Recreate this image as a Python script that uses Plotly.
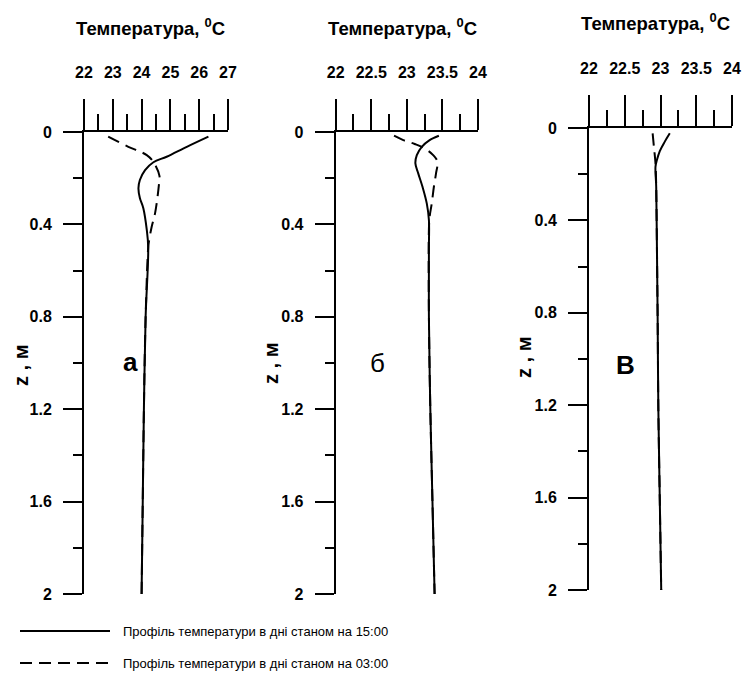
import plotly.graph_objects as go

# ---- Temperature profiles: depth z (m) vs temperature (°C) ----
# Panel "а"
z_a_day = [0.02, 0.064, 0.107, 0.131, 0.165, 0.208, 0.244, 0.286, 0.33, 0.424, 0.5, 0.8, 1.2, 1.6, 2.0]
t_a_day = [26.32, 25.57, 24.87, 24.41, 24.12, 23.94, 23.89, 23.94, 24.06, 24.18, 24.23, 24.14, 24.08, 24.04, 24.0]
z_a_night = [0.02, 0.064, 0.10, 0.13, 0.19, 0.23, 0.35, 0.41, 0.47, 0.5, 0.8, 1.2, 1.6, 2.0]
t_a_night = [22.84, 23.54, 24.18, 24.41, 24.62, 24.6, 24.47, 24.35, 24.26, 24.23, 24.14, 24.08, 24.04, 24.0]

# Panel "б"
z_b_day = [0.016, 0.035, 0.064, 0.10, 0.136, 0.179, 0.237, 0.309, 0.381, 0.5, 0.8, 1.2, 1.6, 2.0]
t_b_day = [23.45, 23.32, 23.21, 23.14, 23.12, 23.16, 23.22, 23.28, 23.31, 23.31, 23.31, 23.33, 23.36, 23.39]
z_b_night = [0.016, 0.035, 0.052, 0.071, 0.10, 0.128, 0.179, 0.237, 0.309, 0.367, 0.42, 0.8, 1.2, 1.6, 2.0]
t_b_night = [22.82, 22.95, 23.11, 23.25, 23.37, 23.43, 23.41, 23.38, 23.35, 23.32, 23.31, 23.31, 23.33, 23.36, 23.39]

# Panel "в"
z_c_day = [0.023, 0.059, 0.10, 0.139, 0.167, 0.254, 0.514, 0.82, 1.22, 1.61, 2.0]
t_c_day = [23.13, 23.06, 22.99, 22.95, 22.93, 22.94, 22.95, 22.96, 22.97, 22.99, 23.01]
z_c_night = [0.023, 0.088, 0.153, 0.254, 0.514, 0.82, 1.22, 1.61, 2.0]
t_c_night = [22.89, 22.91, 22.93, 22.94, 22.95, 22.96, 22.97, 22.99, 23.01]

# Axis ticks
depth_ticks = [0, 0.4, 0.8, 1.2, 1.6, 2]
depth_labels = ["0", "0.4", "0.8", "1.2", "1.6", "2"]
temp_ticks_a = [22, 23, 24, 25, 26, 27]
temp_labels_a = ["22", "23", "24", "25", "26", "27"]
temp_ticks_bc = [22, 22.5, 23, 23.5, 24]
temp_labels_bc = ["22", "22.5", "23", "23.5", "24"]

panel_letters = ["а", "б", "В"]
series_names = ["Профіль температури в дні станом на 15:00",
                "Профіль температури в дні станом на 03:00"]
axis_title_x = "Температура, <sup>0</sup>C"
axis_title_y = "z , м"

W, H = 744, 678
NARROW = "Liberation Sans Narrow, Arial Narrow, Liberation Sans, Arial, sans-serif"
DASH = "12px,7px"


def px_x(v):
    return v / W


def px_y(v):
    return 1 - v / H


# plotting-area boxes in pixels: (left, right, top, bottom)
boxes = [(84, 228, 132, 594), (335.7, 478, 132, 594), (589, 732, 128, 590)]
x_ranges = [[22, 27], [22, 24], [22, 24]]
x_ticks = [(temp_ticks_a, temp_labels_a, 0.5),
           (temp_ticks_bc, temp_labels_bc, 0.25),
           (temp_ticks_bc, temp_labels_bc, 0.25)]
profiles = [(z_a_day, t_a_day, z_a_night, t_a_night),
            (z_b_day, t_b_day, z_b_night, t_b_night),
            (z_c_day, t_c_day, z_c_night, t_c_night)]

fig = go.Figure()

for i, (zd, td, zn, tn) in enumerate(profiles):
    sfx = "" if i == 0 else str(i + 1)
    fig.add_trace(go.Scatter(x=tn, y=zn, mode="lines", name=series_names[1],
                             line=dict(color="black", width=2, dash=DASH, shape="spline", smoothing=1.0),
                             xaxis="x" + sfx, yaxis="y" + sfx, showlegend=False))
    fig.add_trace(go.Scatter(x=td, y=zd, mode="lines", name=series_names[0],
                             line=dict(color="black", width=2, shape="spline", smoothing=1.0),
                             xaxis="x" + sfx, yaxis="y" + sfx, showlegend=False))

layout = dict(width=W, height=H, margin=dict(l=0, r=0, t=0, b=0, autoexpand=False),
              paper_bgcolor="white", plot_bgcolor="white", showlegend=False)

for i, (l, r, t, b) in enumerate(boxes):
    sfx = "" if i == 0 else str(i + 1)
    tv, tt, minor_step = x_ticks[i]
    layout["xaxis" + sfx] = dict(
        domain=[px_x(l), px_x(r)], range=x_ranges[i], side="top", automargin=False,
        anchor="y" + sfx, showgrid=False, zeroline=False,
        showline=True, linecolor="black", linewidth=2,
        ticks="outside", ticklen=31, tickwidth=2, tickcolor="black",
        tickmode="array", tickvals=tv, ticktext=tt, ticklabelstandoff=15,
        tickfont=dict(family=NARROW, size=16, color="black", weight="bold"),
        minor=dict(ticks="outside", ticklen=16, tickwidth=2, tickcolor="black",
                   dtick=minor_step, tick0=22, showgrid=False),
        fixedrange=True)
    layout["yaxis" + sfx] = dict(
        domain=[px_y(b), px_y(t)], range=[2, 0], anchor="x" + sfx, automargin=False,
        showgrid=False, zeroline=False,
        showline=True, linecolor="black", linewidth=2,
        ticks="outside", ticklen=19, tickwidth=2, tickcolor="black",
        tickmode="array", tickvals=depth_ticks, ticktext=depth_labels, ticklabelstandoff=8,
        tickfont=dict(family=NARROW, size=16, color="black", weight="bold"),
        minor=dict(ticks="outside", ticklen=9, tickwidth=2, tickcolor="black",
                   dtick=0.2, tick0=0, showgrid=False),
        fixedrange=True)

fig.update_layout(**layout)

annotations = []
title_pos = [(150, 27), (402, 27), (655, 22)]
ytitle_pos = [(21, 366), (271, 364), (524, 358)]
letter_pos = [(130, 362), (377, 363), (625, 365)]
for i in range(3):
    annotations.append(dict(text=axis_title_x, x=px_x(title_pos[i][0]), y=px_y(title_pos[i][1]),
                            xref="paper", yref="paper", showarrow=False,
                            xanchor="center", yanchor="middle",
                            font=dict(family=NARROW, size=18.5, color="black", weight="bold")))
    annotations.append(dict(text=axis_title_y, x=px_x(ytitle_pos[i][0]), y=px_y(ytitle_pos[i][1]),
                            xref="paper", yref="paper", showarrow=False, textangle=-90,
                            xanchor="center", yanchor="middle",
                            font=dict(family=NARROW, size=20, color="black", weight="bold")))
    annotations.append(dict(text=panel_letters[i], x=px_x(letter_pos[i][0]), y=px_y(letter_pos[i][1]),
                            xref="paper", yref="paper", showarrow=False,
                            xanchor="center", yanchor="middle",
                            font=dict(family=NARROW, size=26, color="black",
                                      weight="normal" if i == 1 else "bold")))

# key for the two line styles below the panels
key_rows = [(631, "solid"), (663, DASH)]
shapes = []
for (yy, dash), name in zip(key_rows, series_names):
    shapes.append(dict(type="line", xref="paper", yref="paper",
                       x0=px_x(20), x1=px_x(110), y0=px_y(yy), y1=px_y(yy),
                       line=dict(color="black", width=2, dash=dash)))
    annotations.append(dict(text=name, x=px_x(121), y=px_y(yy), xref="paper", yref="paper",
                            showarrow=False, xanchor="left", yanchor="middle",
                            font=dict(family=NARROW, size=13, color="black")))

fig.update_layout(annotations=annotations, shapes=shapes)
fig.write_html("out.html")
